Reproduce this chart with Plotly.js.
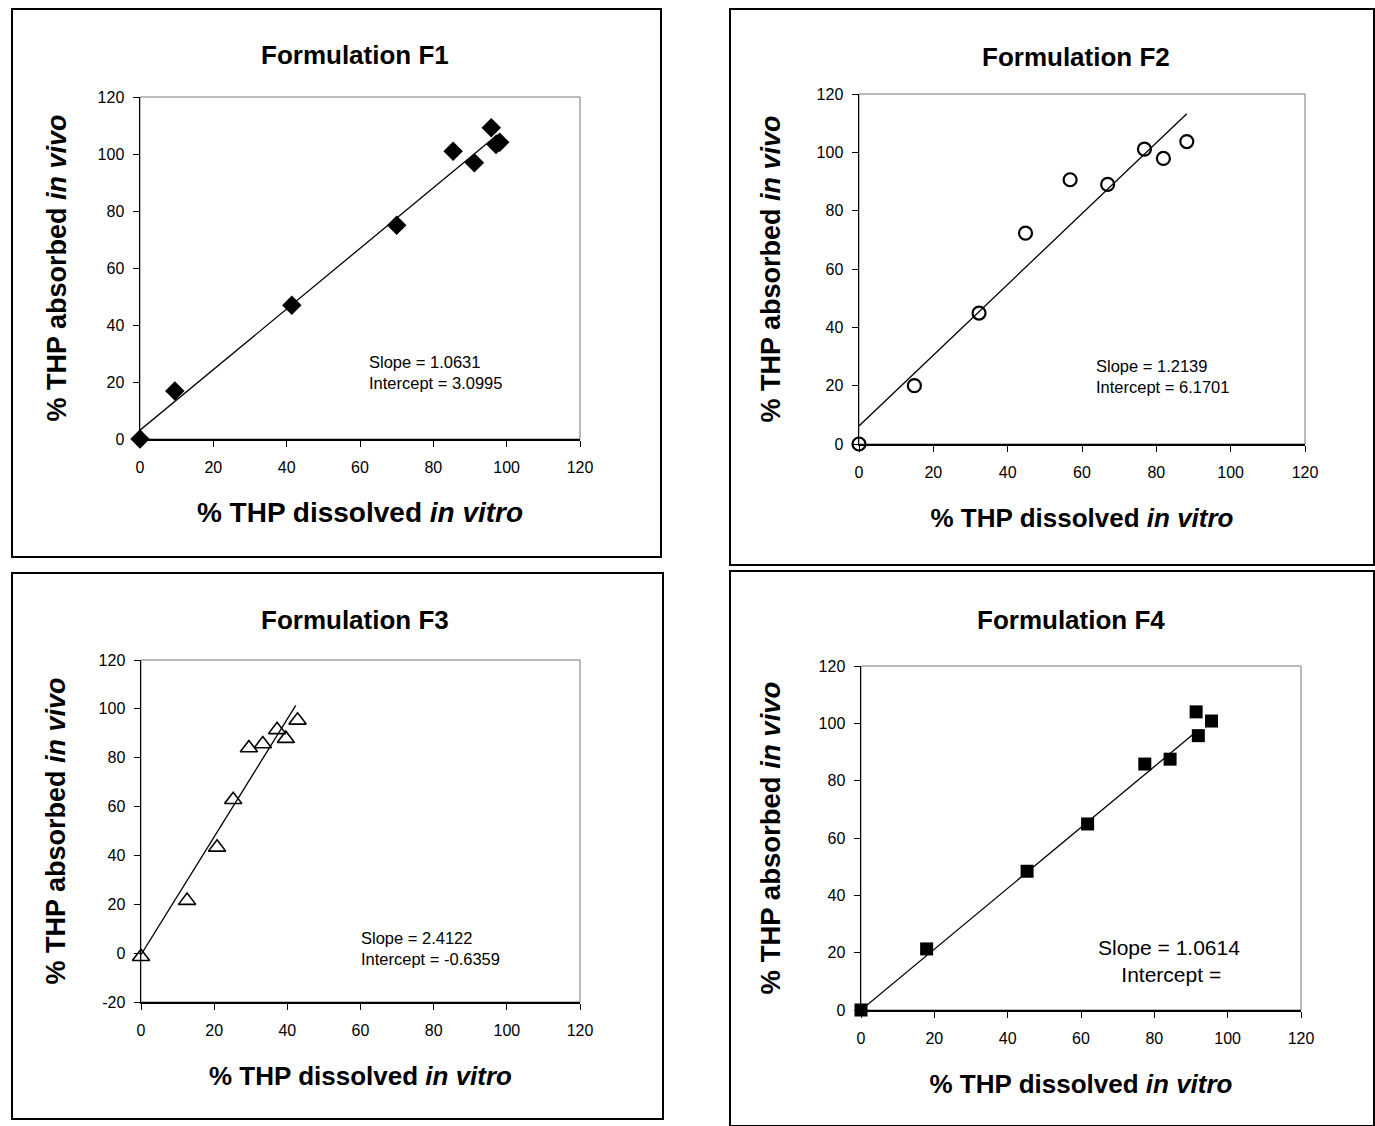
<!DOCTYPE html>
<html>
<head>
<meta charset="utf-8">
<script src="https://cdn.plot.ly/plotly-3.0.1.min.js"></script>
<style>html,body{margin:0;padding:0;background:#fff;}#chart{width:1375px;height:1126px;}</style>
</head>
<body>
<div id="chart"></div>
<script>
// ---- Data ----
const panelTitles = ["Formulation F1", "Formulation F2", "Formulation F3", "Formulation F4"];
const xTitle = "% THP dissolved <i>in vitro</i>";
const yTitle = "% THP absorbed <i>in vivo</i>";

const f1_x = [0, 9.5, 41.4, 70.0, 85.4, 91.2, 95.8, 97.1, 98.1];
const f1_y = [0, 16.8, 46.9, 75.0, 101.0, 96.9, 109.2, 103.3, 104.1];
const f1_slope = 1.0631, f1_intercept = 3.0995;
const f1_fitX = [0, 97.5];

const f2_x = [0, 14.9, 32.3, 44.8, 56.8, 66.9, 76.8, 81.9, 88.2];
const f2_y = [0, 20.0, 44.9, 72.3, 90.6, 89.0, 101.1, 97.9, 103.7];
const f2_slope = 1.2139, f2_intercept = 6.1701;
const f2_fitX = [0, 88.2];

const f3_x = [0, 12.6, 20.8, 25.2, 29.5, 33.3, 37.2, 39.6, 42.8];
const f3_y = [-1.5, 21.5, 43.3, 62.8, 84.0, 85.6, 91.4, 87.8, 95.3];
const f3_slope = 2.4122, f3_intercept = -0.6359;
const f3_fitX = [0, 42.3];

const f4_x = [0, 17.9, 45.3, 61.8, 77.4, 84.3, 91.4, 92.0, 95.6];
const f4_y = [0, 21.3, 48.4, 64.9, 85.8, 87.5, 104.0, 95.7, 100.8];
const f4_slope = 1.0614, f4_intercept = 0;
const f4_fitX = [0, 91.0];

const slopeTexts = ["Slope = 1.0631<br>Intercept = 3.0995", "Slope = 1.2139<br>Intercept = 6.1701",
                    "Slope = 2.4122<br>Intercept = -0.6359", "Slope = 1.0614<br>&nbsp;&nbsp;&nbsp;&nbsp;Intercept ="];
const tickVals = [0, 20, 40, 60, 80, 100, 120];
const tickValsF3 = [-20, 0, 20, 40, 60, 80, 100, 120];
const tickTextF3 = ["-20", "0", "20", "40", "60", "80", "100", "120"];

// ---- Layout helpers (pixel geometry of the 1375x1126 picture) ----
const W = 1375, H = 1126;
const px = v => v / W;
const py = v => 1 - v / H;

const FONT = "Liberation Sans, Arial, sans-serif";

function fit(xs, m, b) { return xs.map(x => m * x + b); }

const data = [];
function addPanel(i, xs, ys, fx, m, b, marker) {
  const ax = i === 0 ? "" : String(i + 1);
  data.push({x: fx, y: fit(fx, m, b), mode: "lines", type: "scatter",
             line: {color: "#000", width: 1.3}, xaxis: "x" + ax, yaxis: "y" + ax,
             hoverinfo: "skip", showlegend: false});
  data.push({x: xs, y: ys, mode: "markers", type: "scatter", marker: marker,
             xaxis: "x" + ax, yaxis: "y" + ax, showlegend: false, cliponaxis: false});
}
addPanel(0, f1_x, f1_y, f1_fitX, f1_slope, f1_intercept,
         {symbol: "diamond", size: 15, color: "#000"});
addPanel(1, f2_x, f2_y, f2_fitX, f2_slope, f2_intercept,
         {symbol: "circle-open", size: 13, color: "#000", line: {width: 2.2, color: "#000"}});
addPanel(2, f3_x, f3_y, f3_fitX, f3_slope, f3_intercept,
         {symbol: "triangle-up-open", size: 15, color: "#000", line: {width: 1.6, color: "#000"}});
addPanel(3, f4_x, f4_y, f4_fitX, f4_slope, f4_intercept,
         {symbol: "square", size: 13, color: "#000"});

// plot-area pixel boxes: [left, right, top, bottom]
const boxes = [[140, 580, 97, 439], [859, 1305, 94, 444], [141, 580, 660, 1002], [861, 1301, 666, 1010]];
const yRanges = [[0, 120], [0, 120], [-20, 120], [0, 120]];
const xTitleSize = [28, 26, 26, 26];
const yTitleSize = [27, 27, 27, 27.5];
const xStandoff = [27, 29, 29, 29];
const yStandoff = [23, 28, 25, 30];

const layout = {
  width: W, height: H, margin: {l: 0, r: 0, t: 0, b: 0},
  paper_bgcolor: "#fff", plot_bgcolor: "#fff", showlegend: false,
  shapes: [], annotations: []
};

boxes.forEach((bx, i) => {
  const ax = i === 0 ? "" : String(i + 1);
  layout["xaxis" + ax] = {
    domain: [px(bx[0]), px(bx[1])], range: [0, 120], tickvals: tickVals,
    anchor: "y" + ax, showgrid: false, zeroline: false, showline: true,
    linecolor: "#000", linewidth: 1.5, ticks: "outside", ticklen: 6, tickcolor: "#000",
    ticklabelstandoff: 7,
    tickfont: {family: FONT, size: 16, color: "#000"},
    title: {text: xTitle, font: {family: FONT, size: xTitleSize[i], color: "#000", weight: "bold"}, standoff: xStandoff[i]}
  };
  layout["yaxis" + ax] = {
    domain: [py(bx[3]), py(bx[2])], range: yRanges[i],
    tickvals: i === 2 ? tickValsF3 : tickVals, ticktext: i === 2 ? tickTextF3 : undefined,
    anchor: "x" + ax, showgrid: false, zeroline: false, showline: true,
    linecolor: "#000", linewidth: 1.5, ticks: "outside", ticklen: 6, tickcolor: "#000",
    ticklabelstandoff: 5,
    tickfont: {family: FONT, size: 16, color: "#000"},
    title: {text: yTitle, font: {family: FONT, size: yTitleSize[i], color: "#000", weight: "bold"}, standoff: yStandoff[i]}
  };
  // grey plot-area frame (top/right)
  layout.shapes.push({type: "rect", xref: "paper", yref: "paper",
    x0: px(bx[0]), x1: px(bx[1]), y0: py(bx[3]), y1: py(bx[2]),
    line: {color: "#777", width: 1}, layer: "below"});
});

// outer panel borders
const frames = [[12, 661, 9, 557], [730, 1374, 9, 565], [12, 663, 573, 1119], [730, 1374, 571, 1126]];
frames.forEach(f => layout.shapes.push({type: "rect", xref: "paper", yref: "paper",
  x0: px(f[0]), x1: px(f[1]), y0: py(f[3]), y1: py(f[2]), line: {color: "#000", width: 2}}));

// panel titles
const titlePos = [[355, 55], [1076, 57], [355, 620], [1071, 620]];
titlePos.forEach((p, i) => layout.annotations.push({
  xref: "paper", yref: "paper", x: px(p[0]), y: py(p[1]), xanchor: "center", yanchor: "middle",
  text: "<b>" + panelTitles[i] + "</b>", showarrow: false,
  font: {family: FONT, size: 26, color: "#000"}}));

// slope / intercept notes
const notePos = [[367, 372], [1094, 377], [359, 948], [1096, 961]];
const noteSize = [16.5, 16.5, 16.5, 21];
notePos.forEach((p, i) => layout.annotations.push({
  xref: "paper", yref: "paper", x: px(p[0]), y: py(p[1]), xanchor: "left", yanchor: "middle",
  align: "left", text: slopeTexts[i], showarrow: false,
  font: {family: FONT, size: noteSize[i], color: "#000"}}));

Plotly.newPlot("chart", data, layout, {displayModeBar: false, staticPlot: true});
</script>
</body>
</html>
